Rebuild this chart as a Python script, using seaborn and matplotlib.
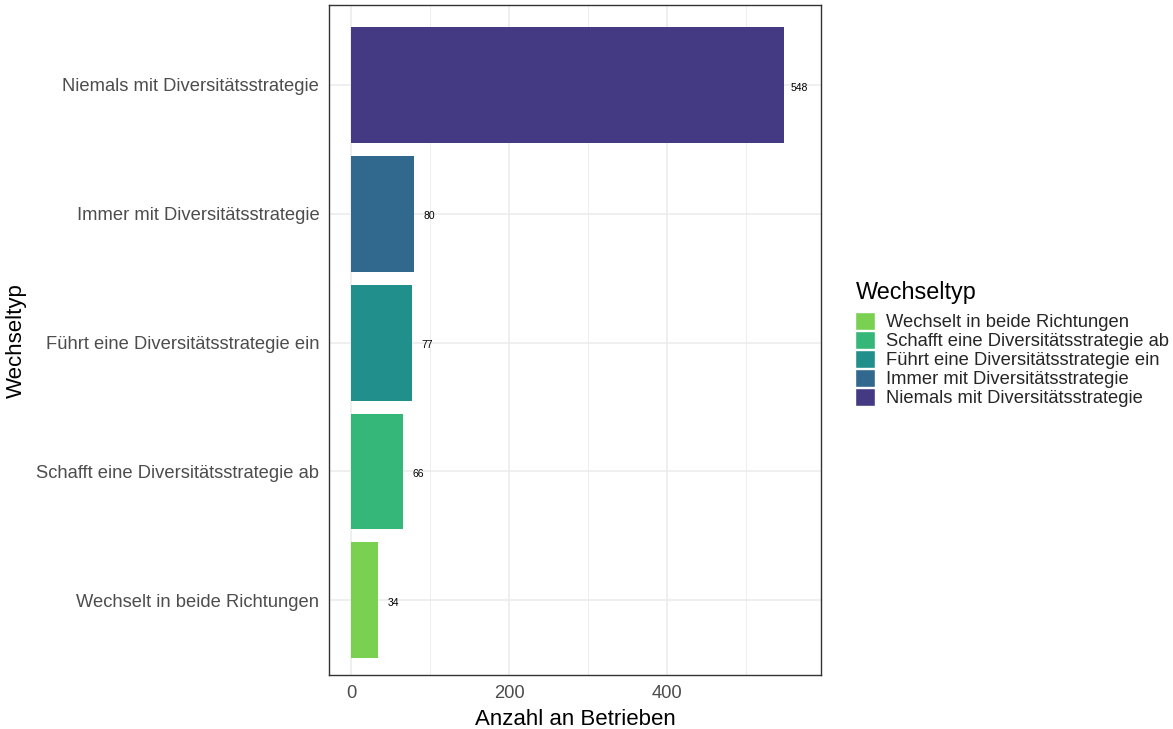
import pandas as pd
import matplotlib
matplotlib.use('Agg')
import matplotlib.pyplot as plt
from matplotlib.patches import Patch
import seaborn as sns

# %%
categories = ['Niemals mit Diversitätsstrategie',
              'Immer mit Diversitätsstrategie',
              'Führt eine Diversitätsstrategie ein',
              'Schafft eine Diversitätsstrategie ab',
              'Wechselt in beide Richtungen']
counts = [548, 80, 77, 66, 34]
colors = ['#443A83', '#31688E', '#21908C', '#35B779', '#7AD151']
x_ticks = [0, 200, 400]

df = pd.DataFrame({'Wechseltyp': categories, 'Anzahl': counts})
palette = dict(zip(categories, colors))

# %%
sns.set_style('white')
plt.rcParams['font.family'] = ['Liberation Sans', 'DejaVu Sans']

fig = plt.figure(figsize=(11.73, 7.29), dpi=100)
ax = fig.add_axes([0.2805, 0.074, 0.4195, 0.919])

sns.barplot(data=df, x='Anzahl', y='Wechseltyp', hue='Wechseltyp',
            order=categories, hue_order=categories, palette=palette,
            width=0.9, saturation=1, legend=False, ax=ax, zorder=3,
            linewidth=0)

for i, v in enumerate(counts):
    ax.text(v + 19, i + 0.02, str(v), va='center', ha='center', fontsize=7.5, color='black')

ax.set_xlim(-28, 595)
ax.set_ylim(4.58, -0.62)
ax.set_xticks(x_ticks)
ax.set_xticks([100, 300, 500], minor=True)
ax.grid(True, which='major', color='#EBEBEB', linewidth=1.1, zorder=0)
ax.grid(True, which='minor', axis='x', color='#EBEBEB', linewidth=0.6, zorder=0)
ax.set_axisbelow(True)
for s in ax.spines.values():
    s.set_color('#333333')
    s.set_linewidth(1)
ax.tick_params(axis='both', which='major', length=4, width=1, color='#333333',
               labelsize=13.2, labelcolor='#4D4D4D', pad=3)
ax.tick_params(which='minor', length=0)
ax.set_xlabel('Anzahl an Betrieben', fontsize=16, color='black', labelpad=5)
ax.set_ylabel('Wechseltyp', fontsize=16, color='black', labelpad=7)

# legend: title as separate text to get the ggplot-like gap
fig.text(856 / 1173, 1 - 292 / 729, 'Wechseltyp', fontsize=16.8,
         ha='left', va='center', color='black')
handles = [Patch(facecolor=palette[c], label=c) for c in categories[::-1]]
leg = fig.legend(handles=handles, loc='upper left',
                 bbox_to_anchor=(855 / 1173, 1 - 312 / 729), frameon=False,
                 fontsize=13.2, handlelength=1.1, handleheight=1.1,
                 handletextpad=0.6, labelspacing=0.0, borderaxespad=0,
                 borderpad=0)

plt.savefig('out.png', dpi=100)
